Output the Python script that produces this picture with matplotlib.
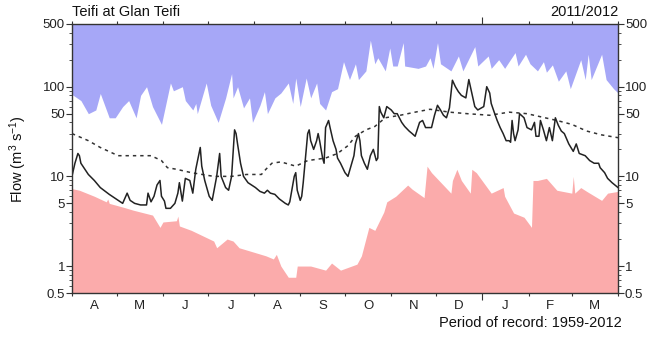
import numpy as np
import matplotlib
matplotlib.use("Agg")
import matplotlib.pyplot as plt
from matplotlib.ticker import FixedLocator, NullFormatter

plt.rcParams["font.family"] = ["Liberation Sans", "DejaVu Sans"]
plt.rcParams["mathtext.fontset"] = "custom"
plt.rcParams["mathtext.rm"] = "Liberation Sans"
plt.rcParams["mathtext.it"] = "Liberation Sans"

# days counted from 1 April 2011
month_starts = [0, 30, 61, 91, 122, 153, 183, 214, 244, 275, 306, 335, 366]
month_labels = ["A", "M", "J", "J", "A", "S", "O", "N", "D", "J", "F", "M"]

# maximum daily flow on record (m3/s)
max_days = [0, 6, 11, 16, 19, 25, 29, 34, 38, 43, 46, 50, 54, 60, 66, 68, 74, 76,
            81, 83, 84, 90, 93, 98, 103, 107, 108, 111, 115, 119, 121, 126, 129,
            131, 136, 140, 145, 148, 150, 153, 157, 160, 164, 166, 170, 174, 178,
            182, 186, 190, 192, 197, 200, 203, 205, 210, 213, 215, 218, 222, 223,
            232, 237, 240, 242, 245, 247, 254, 259, 262, 270, 272, 279, 281, 286,
            290, 292, 297, 299, 304, 307, 312, 316, 318, 322, 326, 331, 334, 341,
            344, 346, 348, 355, 358, 363, 366]
max_flow = [82, 70, 50, 55, 84, 45, 45, 60, 70, 45, 80, 100, 60, 38, 110, 90, 100, 70,
            55, 65, 50, 110, 62, 40, 75, 140, 75, 100, 58, 75, 40, 62, 88,
            50, 75, 85, 110, 65, 125, 60, 125, 75, 110, 65, 55, 88, 95,
            190, 120, 180, 120, 150, 330, 180, 210, 150, 270, 170, 170, 310, 170,
            160, 170, 210, 160, 310, 180, 150, 220, 150, 280, 170, 220, 160, 200,
            160, 180, 240, 170, 230, 180, 150, 190, 145, 175, 115, 150, 95, 200,
            120, 230, 120, 230, 120, 95, 85]

# minimum daily flow on record
min_days = [0, 5, 15, 23, 24, 25, 35, 41, 54, 59, 61, 70, 71, 72, 80, 95, 97, 104,
            108, 112, 130, 135, 137, 140, 145, 150, 151, 160, 170, 174, 180, 191,
            194, 199, 203, 209, 211, 217, 225, 228, 236, 238, 241, 254, 255, 258,
            261, 267, 268, 271, 281, 289, 290, 296, 303, 308, 309, 312, 318, 325,
            335, 336, 337, 341, 345, 355, 359, 366]
min_flow = [7.3, 7.0, 6.0, 5.2, 5.6, 5.0, 4.5, 4.2, 3.7, 2.7, 3.1, 3.2, 3.6, 2.8,
            2.5, 1.9, 1.6, 2.0, 1.9, 1.6, 1.3, 1.2, 1.35, 1.0, 0.75, 0.75, 1.0,
            1.0, 0.9, 1.08, 0.9, 1.05, 1.3, 2.7, 2.5, 4.0, 5.2, 6.0, 8.0, 7.2, 5.8,
            13, 11, 6.5, 9, 12, 9, 6.5, 12, 11, 6.5, 7.5, 6.0, 3.9, 3.5, 2.7, 9,
            9, 9.5, 7.0, 6.5, 10, 6.5, 7.5, 6.8, 5.4, 6.5, 6.8]

# mean daily flow for the period of record
mean_days = [0, 11, 19, 31, 42, 53, 60, 64, 70, 80, 95, 107, 117, 127, 130, 134,
             140, 150, 158, 170, 178, 185, 190, 197, 203, 210, 220, 230, 240, 253,
             265, 280, 293, 305, 325, 335, 345, 355, 366]
mean_flow = [30, 25, 21, 17, 17, 17, 15, 12.5, 12, 11, 10, 10, 10.5, 10.5, 12, 14,
             14.5, 13, 15, 16, 18, 22, 28, 33, 36, 45, 48, 52, 56, 52,
             50, 48, 52, 50, 42, 38, 32, 29, 27]

# daily flow 2011/2012
flow_days = [0, 2, 4, 5, 6, 11, 15, 19, 25, 31, 34, 37, 39, 42, 46, 50, 51, 53, 55,
             57, 59, 60, 62, 63, 66, 69, 71, 72, 74, 76, 79, 81, 83, 86, 87, 89, 92,
             94, 97, 99, 100, 103, 105, 107, 109, 110, 111, 113, 115, 118, 123, 126,
             129, 131, 133, 136, 139, 143, 145, 146, 147, 149, 150, 151, 153, 154,
             155, 156, 158, 159, 160, 162, 164, 165, 166, 168, 169, 170, 172, 173,
             175, 177, 178, 180, 183, 185, 187, 189, 190, 192, 193, 194, 196, 198,
             200, 202, 204, 205, 206, 207, 209, 211, 214, 216, 218, 221, 223, 226,
             228, 230, 233, 235, 237, 241, 243, 245, 247, 249, 251, 253, 255, 257,
             259, 261, 264, 266, 268, 270, 272, 276, 278, 280, 281, 283, 285, 287,
             289, 291, 293, 294, 295, 296, 297, 299, 300, 303, 305, 308, 310, 311,
             313, 314, 316, 318, 320, 322, 324, 326, 328, 330, 333, 336, 338, 340,
             344, 347, 350, 353, 354, 357, 359, 362, 366]
flow = [10, 14, 18, 17, 14, 10.5, 9, 7.5, 6.3, 5.4, 5.0, 6.5, 5.4, 5.0, 4.8, 4.8,
        6.5, 5.2, 6.0, 8.0, 9.0, 6.0, 5.3, 4.4, 4.4, 5.0, 6.5, 8.5, 5.3, 9.5, 9.0,
        6.5, 12, 21, 13, 9, 6, 5.4, 10, 18, 10, 7.5, 7.0, 10, 33, 30, 23, 14, 10,
        8.5, 7.5, 6.8, 6.5, 7.0, 6.5, 6.3, 5.6, 5.0, 4.8, 5.2, 6.5, 10, 11, 7, 5.4,
        6.0, 8.5, 13, 30, 33, 25, 20, 25, 30, 25, 16, 14, 35, 42, 35, 25, 20, 16,
        14, 11, 10, 13, 17, 23, 30, 25, 17, 14, 12, 17, 20, 15, 16, 60, 52, 45,
        60, 55, 50, 50, 40, 36, 32, 30, 28, 40, 42, 35, 35, 48, 62, 55, 48, 45,
        58, 118, 100, 88, 80, 75, 120, 85, 60, 55, 60, 100, 85, 65, 52, 42, 35,
        30, 25, 25, 24, 42, 30, 25, 33, 50, 45, 35, 33, 40, 28, 28, 42, 33, 25,
        35, 25, 45, 37, 32, 30, 23, 19, 23, 18, 17, 15, 14, 14, 12.5, 11, 9.5,
        8.5, 7.5]

fig = plt.figure(figsize=(6.54, 3.38), dpi=100)
ax = fig.add_axes([0.110, 0.133, 0.835, 0.796])

ax.fill_between(max_days, max_flow, 500, color="#a6a7f7", lw=0)
ax.fill_between(min_days, 0.5, min_flow, color="#fbabab", lw=0)
ax.plot(mean_days, mean_flow, color="#333333", lw=1.1, ls=(0, (2.2, 2.6)))
ax.plot(flow_days, flow, color="#222222", lw=1.1)

ax.set_yscale("log")
ax.set_ylim(0.5, 500)
ax.set_xlim(0, 366)

yt = [0.5, 1, 5, 10, 50, 100, 500]
ax.yaxis.set_major_locator(FixedLocator(yt))
ax.set_yticklabels(["0.5", "1", "5", "10", "50", "100", "500"])
minor = [m * 10.0 ** e for e in (-1, 0, 1, 2) for m in range(2, 10)]
minor = [v for v in minor if 0.5 < v < 500 and v not in yt]
ax.yaxis.set_minor_locator(FixedLocator(minor))
ax.yaxis.set_minor_formatter(NullFormatter())
ax.tick_params(axis="y", which="both", left=True, right=True,
               labelleft=True, labelright=True, labelsize=9.5, pad=1,
               color="#333333", labelcolor="#222222")
ax.tick_params(axis="y", which="major", length=4)
ax.tick_params(axis="y", which="minor", length=2)

ax.set_xticks(month_starts)
ax.set_xticklabels([])
mids = [(a + b) / 2 for a, b in zip(month_starts[:-1], month_starts[1:])]
ax.set_xticks(mids, minor=True)
ax.set_xticklabels(month_labels, minor=True)
ax.tick_params(axis="x", which="major", direction="out", length=2.5,
               top=True, bottom=True, color="#333333")
ax.tick_params(axis="x", which="minor", length=0, labelsize=9.5, pad=5,
               labelcolor="#222222")
# longer tick at the turn of the year
jan = ax.xaxis.get_major_ticks()[month_starts.index(275)]
jan.tick1line.set_markersize(5)
jan.tick2line.set_markersize(5)

for s in ax.spines.values():
    s.set_color("#333333")
    s.set_linewidth(1.0)

fig.text(0.110, 0.945, "Teifi at Glan Teifi", fontsize=10.5, ha="left",
         va="bottom", color="#111111")
fig.text(0.945, 0.945, "2011/2012", fontsize=10.5, ha="right", va="bottom",
         color="#111111")
fig.text(0.950, 0.025, "Period of record: 1959-2012", fontsize=10.5, ha="right",
         va="bottom", color="#111111")
fig.text(18 / 654, 0.53, "Flow (m$^3$ s$^{-1}$)", fontsize=10.5, rotation=90,
         ha="center", va="center", color="#111111")

fig.savefig("out.png", dpi=100)
